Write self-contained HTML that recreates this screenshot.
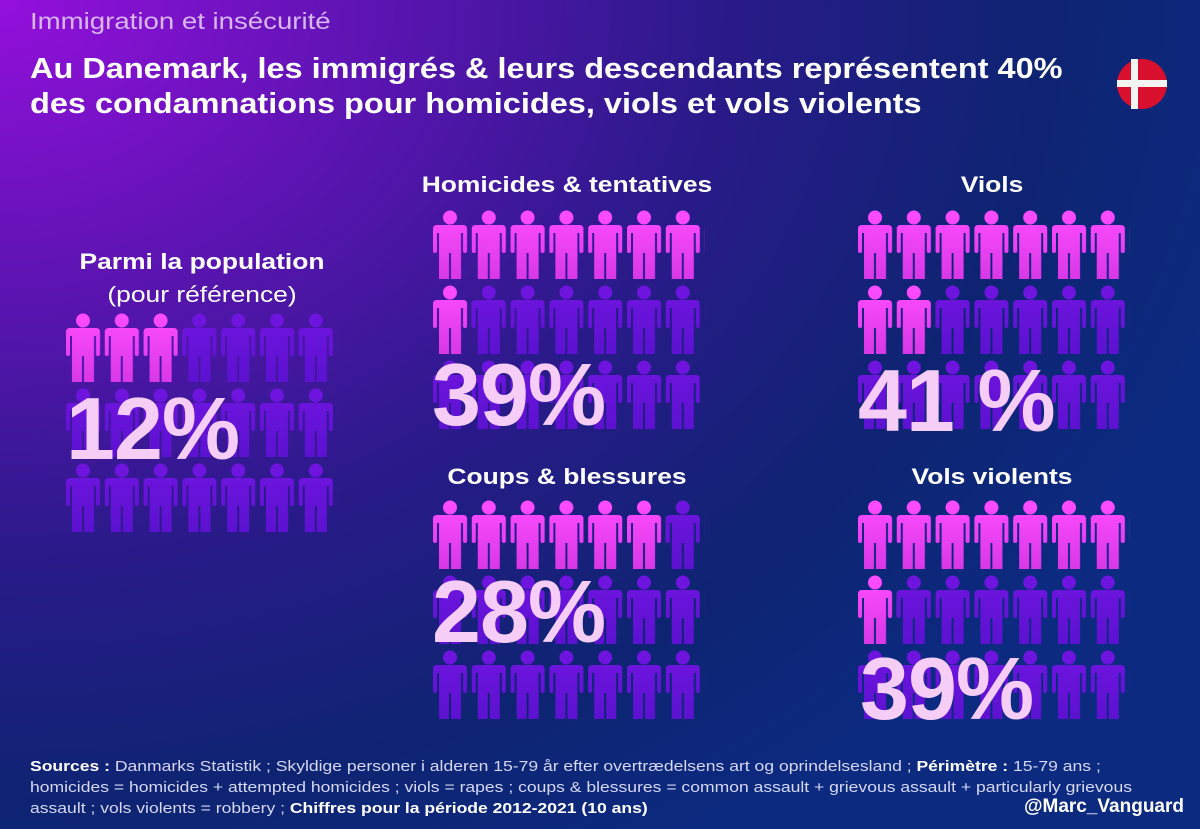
<!DOCTYPE html>
<html><head><meta charset="utf-8"><style>
html,body{margin:0;padding:0}
body{width:1200px;height:829px;overflow:hidden;position:relative;font-family:"Liberation Sans",sans-serif;color:#fff;
background:radial-gradient(ellipse 1300px 1000px at 0 0,#9410dc 0%,#5a14b0 30%,#2a1a8a 55%,#0e2472 80%,#0c2a80 100%);}
.t{position:absolute;white-space:nowrap}
.h{font-weight:bold;font-size:22px;text-align:center;width:400px;transform:scaleX(1.2);transform-origin:center}
.p{font-weight:bold;font-size:88px;color:#f6cdf6;letter-spacing:-1px}
.sx{transform-origin:left top}
svg{position:absolute;left:0;top:0}
</style></head><body>
<svg width="1200" height="829">
<defs>
<linearGradient id="gp" x1="0" y1="0" x2="0" y2="1"><stop offset="0" stop-color="#ff4cff"/><stop offset="1" stop-color="#d838e6"/></linearGradient>
<linearGradient id="gu" x1="0" y1="0" x2="0" y2="1"><stop offset="0" stop-color="#7014e0"/><stop offset="1" stop-color="#5c12d0"/></linearGradient>
<path id="ic" d="M4 14 H30 Q34 14 34 18 V40 Q34 42 32 42 Q30 42 30 40 V22 H28 V68 H18 V42 H16 V68 H6 V22 H4 V40 Q4 42 2 42 Q0 42 0 40 V18 Q0 14 4 14 Z M17 -0.5 A7 7 0 1 1 16.99 -0.5 Z"/>
<pattern id="pu" width="38.8" height="75" patternUnits="userSpaceOnUse"><use href="#ic" y="1" fill="url(#gu)"/></pattern>
<pattern id="pp" width="38.8" height="75" patternUnits="userSpaceOnUse"><use href="#ic" y="1" fill="url(#gp)"/></pattern>
</defs>
<g transform="translate(66,313)"><rect width="271.6" height="225" fill="url(#pu)"/><rect width="116.4" height="75" fill="url(#pp)"/></g>
<g transform="translate(433,210)"><rect width="271.6" height="225" fill="url(#pu)"/><rect width="271.6" height="75" fill="url(#pp)"/><rect y="75" width="38.8" height="75" fill="url(#pp)"/></g>
<g transform="translate(858,210)"><rect width="271.6" height="225" fill="url(#pu)"/><rect width="271.6" height="75" fill="url(#pp)"/><rect y="75" width="77.6" height="75" fill="url(#pp)"/></g>
<g transform="translate(433,500)"><rect width="271.6" height="225" fill="url(#pu)"/><rect width="232.8" height="75" fill="url(#pp)"/></g>
<g transform="translate(858,500)"><rect width="271.6" height="225" fill="url(#pu)"/><rect width="271.6" height="75" fill="url(#pp)"/><rect y="75" width="38.8" height="75" fill="url(#pp)"/></g>
<circle cx="1142" cy="84" r="25" fill="#d8102e"/>
<rect x="1117" y="80" width="50" height="7" fill="#f4f4f4"/>
<rect x="1131" y="59" width="7" height="50" fill="#f4f4f4"/>
</svg>
<div class="t sx" style="left:30px;top:8px;font-size:23px;color:#d8b6f2;transform:scaleX(1.2)">Immigration et insécurité</div>
<div class="t sx" style="left:30px;top:52px;font-size:29px;font-weight:bold;line-height:35px;transform:scaleX(1.12)">Au Danemark, les immigrés &amp; leurs descendants représentent 40%<br>des condamnations pour homicides, viols et vols violents</div>
<div class="t" style="left:2px;top:245px;width:400px;text-align:center;font-size:22px;line-height:33px;transform:scaleX(1.2)"><b>Parmi la population</b><br>(pour référence)</div>
<div class="t h" style="left:367px;top:172px">Homicides &amp; tentatives</div>
<div class="t h" style="left:792px;top:172px">Viols</div>
<div class="t h" style="left:367px;top:464px">Coups &amp; blessures</div>
<div class="t h" style="left:792px;top:464px">Vols violents</div>
<div class="t p" style="left:66px;top:378px">12%</div>
<div class="t p" style="left:432px;top:344px">39%</div>
<div class="t p" style="left:858px;top:350px">41 %</div>
<div class="t p" style="left:432px;top:561px">28%</div>
<div class="t p" style="left:860px;top:638px">39%</div>
<div class="t sx" style="left:30px;top:757px;font-size:14.5px;line-height:21px;color:#d6d8f4;transform:scaleX(1.21)"><b style="color:#fff">Sources :</b> Danmarks Statistik ; Skyldige personer i alderen 15-79 år efter overtrædelsens art og oprindelsesland ; <b style="color:#fff">Périmètre :</b> 15-79 ans ;<br>homicides = homicides + attempted homicides ; viols = rapes ; coups &amp; blessures = common assault + grievous assault + particularly grievous<br>assault ; vols violents = robbery ; <b style="color:#fff">Chiffres pour la période 2012-2021 (10 ans)</b></div>
<div class="t" style="right:16px;top:796px;font-size:19px;font-weight:bold">@Marc_Vanguard</div>
</body></html>
